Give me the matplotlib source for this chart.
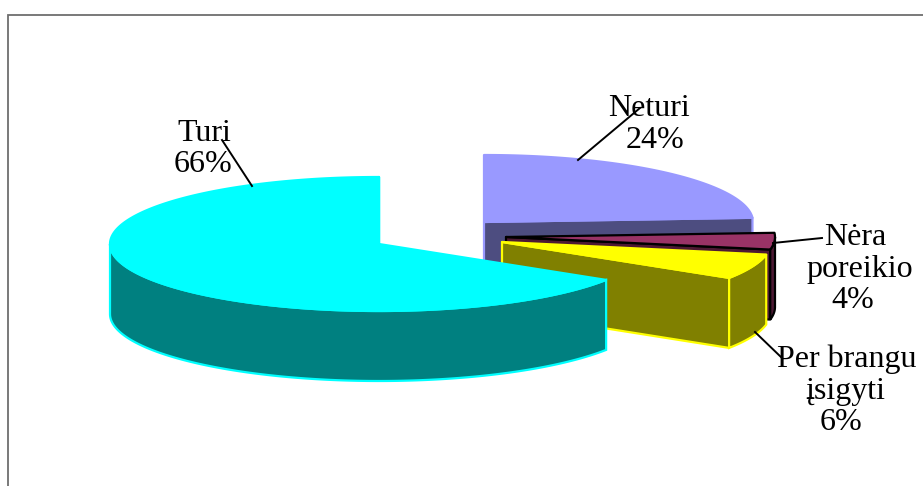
import numpy as np
import matplotlib
matplotlib.use("Agg")
import matplotlib.pyplot as plt
from matplotlib.patches import Polygon, Rectangle

plt.rcParams['font.family'] = ['Liberation Serif', 'DejaVu Serif']

# slice shares in percent, clockwise from twelve o'clock
categories = ["Neturi", "Nėra poreikio", "Per brangu įsigyti", "Turi"]
shares = [24, 4, 6, 66]

top_colors = ["#9999ff", "#993366", "#ffff00", "#00ffff"]
side_colors = ["#4d4d80", "#4d1933", "#808000", "#008080"]
edge_colors = ["#9999ff", "#000000", "#ffff00", "#00ffff"]

# pie apex of each exploded slice, in figure pixels
apex_x = [484, 506, 502, 379]
apex_y = [222, 237, 242, 244]

RX = 269
RY = 67
DEPTH = 70


def rim(x0, y0, a0, a1, drop=0):
  a = np.radians(np.linspace(a0, a1, max(int(a1 - a0) * 2, 2)))
  return np.column_stack([x0 + RX * np.sin(a), y0 - RY * np.cos(a) + drop])


def draw_slice(ax, x0, y0, a0, a1, top, side, edge):
  lw = 1.6
  # cut face at the end of the slice
  end = rim(x0, y0, a1, a1 + 1e-6)[0]
  face = [(x0, y0), end, (end[0], end[1] + DEPTH), (x0, y0 + DEPTH)]
  ax.add_patch(Polygon(face, closed=True, fc=side, ec=edge, lw=lw, joinstyle='round'))
  # outer wall, only the part turned to the front
  w0, w1 = max(a0, 90), min(a1, 270)
  if w1 > w0:
    upper = rim(x0, y0, w0, w1)
    lower = rim(x0, y0, w0, w1, DEPTH)
    ax.add_patch(Polygon(np.vstack([upper, lower[::-1]]), closed=True, fc=side, ec=edge, lw=lw))
  outline = np.vstack([[(x0, y0)], rim(x0, y0, a0, a1)])
  ax.add_patch(Polygon(outline, closed=True, fc=top, ec=edge, lw=lw, joinstyle='round'))


fig = plt.figure(figsize=(9.23, 4.86), dpi=100)
ax = fig.add_axes([0, 0, 1, 1])
ax.set_xlim(0, 923)
ax.set_ylim(486, 0)
ax.axis('off')

# chart frame, runs off the right and bottom
ax.add_patch(Rectangle((8, 15), 930, 490, fc='white', ec='#6e6e6e', lw=1.3))

angle = 0
for i in range(len(shares)):
  sweep = shares[i] * 3.6
  draw_slice(ax, apex_x[i], apex_y[i], angle, angle + sweep,
             top_colors[i], side_colors[i], edge_colors[i])
  angle += sweep

# label lines, the last one is always the share
label_lines = [["Neturi"], ["Nėra", "poreikio"], ["Per brangu", "įsigyti"], ["Turi"]]
label_x = [[649, 655], [855, 860, 853], [847, 845, 841], [204, 203]]
label_y = [[108, 140], [237, 269, 300], [359, 391, 422], [133, 164]]
leader_x = [(640, 578), (822, 773), (755, 782), (222, 252)]
leader_y = [(108, 160), (238, 243), (332, 358), (140, 186)]

for i in range(len(shares)):
  lines = label_lines[i] + [f"{shares[i]}%"]
  for line, x, y in zip(lines, label_x[i], label_y[i]):
    ax.text(x, y, line, fontsize=23, ha='center', va='center', color='black')
  ax.plot(leader_x[i], leader_y[i], color='black', lw=1.4)

fig.savefig("out.png", dpi=100)
